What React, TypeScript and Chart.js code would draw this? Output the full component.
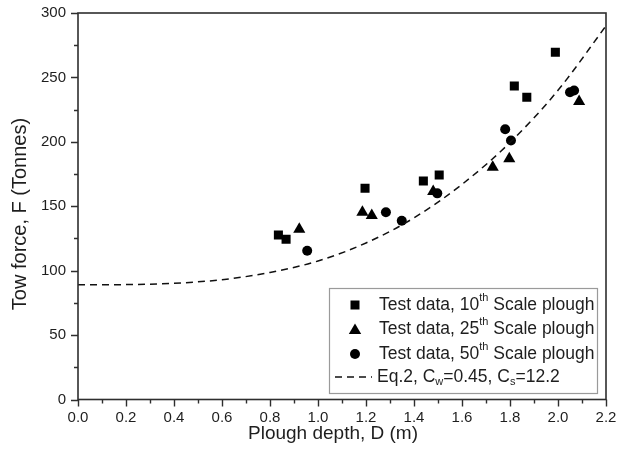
import React, { useEffect, useRef } from "react";
import { Chart, registerables } from "chart.js";

Chart.register(...registerables);

// Test data, 10th scale plough (squares)
const sq10D = [0.835, 0.867, 1.196, 1.439, 1.505, 1.818, 1.87, 1.989];
const sq10F = [127.7, 124.4, 164, 169.6, 174.3, 243.4, 234.6, 269.6];
// Test data, 25th scale plough (triangles)
const tri25D = [0.922, 1.185, 1.224, 1.48, 1.728, 1.797, 2.088];
const tri25F = [132.2, 145.4, 142.8, 161.5, 180.3, 186.8, 231.4];
// Test data, 50th scale plough (circles)
const circ50D = [0.955, 1.283, 1.349, 1.497, 1.78, 1.804, 2.05, 2.067];
const circ50F = [115.5, 145.3, 138.8, 160, 209.8, 201, 238.5, 239.8];
// Eq.2 curve
const curveD = [0, 0.2, 0.4, 0.6, 0.8, 1.0, 1.2, 1.4, 1.6, 1.8, 2.0, 2.2];
const curveF = [89, 89.2, 90.2, 93, 98.6, 107.5, 121.5, 141, 167, 199.5, 240, 290];

const yTicks = [0, 50, 100, 150, 200, 250, 300];
const xTickStep = 0.2;

const FONT = "'Liberation Sans', Arial, sans-serif";
const TXT = "#1e1e1e";

const pts = (xs: number[], ys: number[]) => xs.map((x, i) => ({ x, y: ys[i] }));

type Seg = { t: string; k: "n" | "sup" | "sub" };

function drawRich(ctx: CanvasRenderingContext2D, segs: Seg[], x: number, y: number, size: number) {
  let cx = x;
  for (const s of segs) {
    const fs = s.k === "n" ? size : Math.round(size * 0.62);
    ctx.font = `${fs}px ${FONT}`;
    const dy = s.k === "sup" ? -size * 0.42 : s.k === "sub" ? size * 0.3 : 0;
    ctx.fillText(s.t, cx, y + dy);
    cx += ctx.measureText(s.t).width;
  }
}

const decorPlugin = {
  id: "decor",
  afterDraw(chart: any) {
    const { ctx, chartArea: a, scales } = chart;
    const xs = scales.x;
    const ys = scales.y;
    ctx.save();
    // frame
    ctx.strokeStyle = "#2e2e2e";
    ctx.lineWidth = 1.6;
    ctx.strokeRect(a.left, a.top, a.right - a.left, a.bottom - a.top);
    // ticks
    ctx.lineWidth = 1.4;
    ctx.beginPath();
    for (let v = 0; v <= 300; v += 25) {
      const py = Math.round(ys.getPixelForValue(v)) + 0.5;
      const len = v % 50 === 0 ? 7 : 4;
      ctx.moveTo(a.left, py);
      ctx.lineTo(a.left - len, py);
    }
    for (let i = 0; i <= 22; i++) {
      const px = Math.round(xs.getPixelForValue(i / 10)) + 0.5;
      const len = i % 2 === 0 ? 7 : 4;
      ctx.moveTo(px, a.bottom);
      ctx.lineTo(px, a.bottom + len);
    }
    ctx.stroke();

    // axis titles
    ctx.fillStyle = TXT;
    ctx.font = `19px ${FONT}`;
    ctx.textAlign = "center";
    ctx.textBaseline = "middle";
    ctx.fillText("Plough depth, D (m)", 333, 434);
    ctx.save();
    ctx.translate(20, 214);
    ctx.rotate(-Math.PI / 2);
    ctx.font = `20px ${FONT}`;
    ctx.fillText("Tow force, F (Tonnes)", 0, 0);
    ctx.restore();

    // legend
    const L = 329, T = 288, R = 597, B = 393;
    ctx.fillStyle = "#ffffff";
    ctx.fillRect(L, T, R - L, B - T);
    ctx.strokeStyle = "#9a9a9a";
    ctx.lineWidth = 1.2;
    ctx.strokeRect(L + 0.5, T + 0.5, R - L, B - T);
    const mx = 355;
    const tx = 379;
    const rows = [305, 329.5, 354, 377];
    ctx.fillStyle = "#000";
    ctx.fillRect(mx - 4.5, rows[0] - 4.5, 9, 9);
    ctx.beginPath();
    ctx.moveTo(mx, rows[1] - 6);
    ctx.lineTo(mx + 6.2, rows[1] + 4.5);
    ctx.lineTo(mx - 6.2, rows[1] + 4.5);
    ctx.closePath();
    ctx.fill();
    ctx.beginPath();
    ctx.arc(mx, rows[2], 5, 0, Math.PI * 2);
    ctx.fill();
    ctx.strokeStyle = "#111";
    ctx.lineWidth = 1.4;
    ctx.setLineDash([7, 5]);
    ctx.beginPath();
    ctx.moveTo(335, rows[3]);
    ctx.lineTo(372, rows[3]);
    ctx.stroke();
    ctx.setLineDash([]);

    ctx.fillStyle = TXT;
    ctx.textAlign = "left";
    ctx.textBaseline = "middle";
    const fs = 17.5;
    drawRich(ctx, [{ t: "Test data, 10", k: "n" }, { t: "th", k: "sup" }, { t: " Scale plough", k: "n" }], tx, rows[0], fs);
    drawRich(ctx, [{ t: "Test data, 25", k: "n" }, { t: "th", k: "sup" }, { t: " Scale plough", k: "n" }], tx, rows[1], fs);
    drawRich(ctx, [{ t: "Test data, 50", k: "n" }, { t: "th", k: "sup" }, { t: " Scale plough", k: "n" }], tx, rows[2], fs);
    drawRich(ctx, [
      { t: "Eq.2, C", k: "n" }, { t: "w", k: "sub" }, { t: "=0.45, C", k: "n" }, { t: "s", k: "sub" }, { t: "=12.2", k: "n" },
    ], tx - 2, rows[3], fs);
    ctx.restore();
  },
};

export default function App() {
  const ref = useRef<HTMLCanvasElement>(null);
  useEffect(() => {
    document.body.style.margin = "0";
    const chart = new Chart(ref.current!, {
      type: "scatter",
      data: {
        datasets: [
          {
            label: "Eq.2, Cw=0.45, Cs=12.2",
            data: pts(curveD, curveF),
            showLine: true,
            borderColor: "#111",
            borderWidth: 1.5,
            borderDash: [7, 5],
            pointRadius: 0,
            cubicInterpolationMode: "monotone",
          } as any,
          {
            label: "Test data, 10th Scale plough",
            data: pts(sq10D, sq10F),
            pointStyle: "rect",
            pointRadius: 6.4,
            backgroundColor: "#000",
            borderColor: "#000",
            borderWidth: 0,
          },
          {
            label: "Test data, 25th Scale plough",
            data: pts(tri25D, tri25F),
            pointStyle: "triangle",
            pointRadius: 7,
            backgroundColor: "#000",
            borderColor: "#000",
            borderWidth: 0,
          },
          {
            label: "Test data, 50th Scale plough",
            data: pts(circ50D, circ50F),
            pointStyle: "circle",
            pointRadius: 5,
            backgroundColor: "#000",
            borderColor: "#000",
            borderWidth: 0,
          },
        ],
      },
      options: {
        animation: false,
        responsive: false,
        maintainAspectRatio: false,
        layout: { padding: { left: 0, top: 13, right: 11, bottom: 0 } },
        plugins: { legend: { display: false }, tooltip: { enabled: false } },
        scales: {
          x: {
            type: "linear",
            min: 0,
            max: 2.2,
            grid: { display: false, drawTicks: false },
            border: { display: false },
            ticks: {
              stepSize: xTickStep,
              padding: 9,
              color: TXT,
              font: { family: FONT, size: 15 },
              maxRotation: 0,
              autoSkip: false,
              callback: (v: any) => Number(v).toFixed(1),
            },
            afterFit: (s: any) => {
              s.height = 58.5;
              s.paddingLeft = 0;
              s.paddingRight = 0;
            },
          },
          y: {
            type: "linear",
            min: yTicks[0],
            max: yTicks[yTicks.length - 1],
            grid: { display: false, drawTicks: false },
            border: { display: false },
            ticks: {
              stepSize: 50,
              padding: 12,
              color: TXT,
              font: { family: FONT, size: 15 },
            },
            afterFit: (s: any) => {
              s.width = 78;
              s.paddingTop = 0;
              s.paddingBottom = 0;
            },
          },
        },
      },
      plugins: [decorPlugin],
    });
    return () => chart.destroy();
  }, []);
  return (
    <div style={{ width: 617, height: 458, position: "relative" }}>
      <canvas ref={ref} width={617} height={458} />
    </div>
  );
}
